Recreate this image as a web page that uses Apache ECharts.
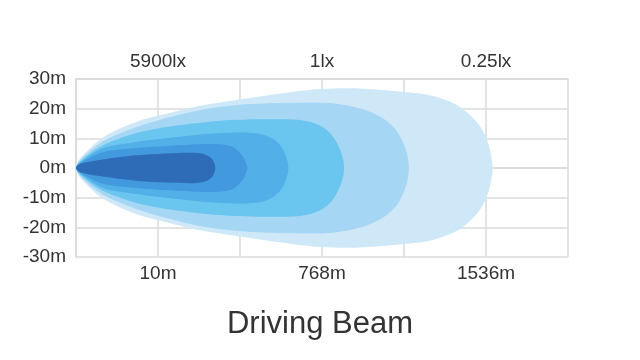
<!DOCTYPE html>
<html>
<head>
<meta charset="utf-8">
<script src="https://cdn.jsdelivr.net/npm/echarts@6/dist/echarts.min.js"></script>
<style>
  html, body { margin: 0; padding: 0; background: #ffffff; }
  #chart { width: 640px; height: 360px; }
</style>
</head>
<body>
<div id="chart"></div>
<script>
// Distance columns (x axis, in grid columns) and labels
const bottomTickLabels = ['', '10m', '', '768m', '', '1536m', ''];
const topTickLabels = ['', '5900lx', '', '1lx', '', '0.25lx', ''];
const yTicks = [-30, -20, -10, 0, 10, 20, 30];

// Beam contours: upper boundary as [column, half-width in m], mirrored below the axis
const beam025lx = [[0,0],[0.06,3.5],[0.33,10.3],[0.74,15.6],[1.15,18.6],[1.51,21],[2.12,23.6],[2.61,25.5],[2.98,26.6],[3.46,26.8],[4.0,25.6],[4.33,24.4],[4.66,21],[4.87,16],[4.99,11],[5.05,6],[5.08,0]];
const beam1lx   = [[0,0],[0.06,3],[0.33,9],[0.74,13.8],[1.15,17.2],[1.6,20],[2.1,21.5],[2.6,22],[3.1,21.9],[3.5,19.8],[3.74,16.8],[3.9,13],[3.99,8.5],[4.04,4.5],[4.06,0]];
const beam3lx   = [[0,0],[0.06,2.5],[0.33,7.7],[0.74,11.8],[1.15,14],[1.7,15.8],[2.2,16.4],[2.7,16.3],[2.9,15.2],[3.05,13],[3.16,9.5],[3.23,5.5],[3.26,2.5],[3.27,0]];
const beam10lx  = [[0,0],[0.06,2],[0.33,6.7],[0.74,8.8],[1.15,10.2],[1.6,11.5],[1.95,12],[2.25,11.5],[2.42,9.5],[2.52,6.5],[2.57,3],[2.59,0]];
const beam100lx = [[0,0],[0.06,1.8],[0.33,5.3],[0.74,6.7],[1.15,7.5],[1.5,8],[1.75,8],[1.92,7],[2.02,4.5],[2.07,2],[2.09,0]];
const beam5900lx= [[0,0],[0.06,1.5],[0.33,2.9],[0.7,4.2],[1.1,4.9],[1.45,5.1],[1.58,4.5],[1.66,3],[1.70,0]];

const contours = [beam025lx, beam1lx, beam3lx, beam10lx, beam100lx, beam5900lx];
const contourColors = ['#cfe8f8', '#a5d6f4', '#6ac5ef', '#52afe7', '#4399dd', '#2f6cb8'];

const chart = echarts.init(document.getElementById('chart'), null, { renderer: 'canvas' });

const gridColor = '#dadada';
const labelFont = { color: '#333333', fontSize: 19, fontFamily: 'Liberation Sans, Arial, sans-serif' };

function renderItem(params, api) {
  const upper = contours[params.dataIndex];
  const pts = [];
  for (let i = 0; i < upper.length; i++) pts.push(api.coord([upper[i][0], upper[i][1]]));
  for (let i = upper.length - 2; i >= 1; i--) pts.push(api.coord([upper[i][0], -upper[i][1]]));
  return {
    type: 'polygon',
    shape: { points: pts, smooth: 0.3 },
    style: { fill: contourColors[params.dataIndex] }
  };
}

chart.setOption({
  animation: false,
  backgroundColor: '#ffffff',
  title: {
    text: 'Driving Beam',
    left: 'center',
    top: 304,
    textStyle: { color: '#333333', fontSize: 31, fontWeight: 'normal', fontFamily: 'Liberation Sans, Arial, sans-serif' }
  },
  grid: { left: 76, right: 72, top: 79, bottom: 103, containLabel: false },
  xAxis: [
    {
      type: 'value', min: 0, max: 6, interval: 1, position: 'bottom',
      axisLine: { show: true, lineStyle: { color: gridColor, width: 1.5 } },
      axisTick: { show: false },
      splitLine: { show: true, lineStyle: { color: gridColor, width: 1.5 } },
      axisLabel: Object.assign({ margin: 7, formatter: v => bottomTickLabels[Math.round(v)] || '' }, labelFont)
    },
    {
      type: 'value', min: 0, max: 6, interval: 1, position: 'top',
      axisLine: { show: true, lineStyle: { color: gridColor, width: 1.5 } },
      axisTick: { show: false },
      splitLine: { show: false },
      axisLabel: Object.assign({ margin: 8, formatter: v => topTickLabels[Math.round(v)] || '' }, labelFont)
    }
  ],
  yAxis: {
    type: 'value', min: yTicks[0], max: yTicks[yTicks.length - 1], interval: 10,
    axisLine: { show: true, lineStyle: { color: gridColor, width: 1.5 } },
    axisTick: { show: false },
    splitLine: { show: true, lineStyle: { color: gridColor, width: 1.5 } },
    axisLabel: Object.assign({ margin: 10, formatter: v => v + 'm' }, labelFont)
  },
  series: [{
    type: 'custom',
    xAxisIndex: 0,
    yAxisIndex: 0,
    renderItem: renderItem,
    data: contours.map(c => [c[c.length - 1][0], 0]),
    silent: true
  }]
});
</script>
</body>
</html>
